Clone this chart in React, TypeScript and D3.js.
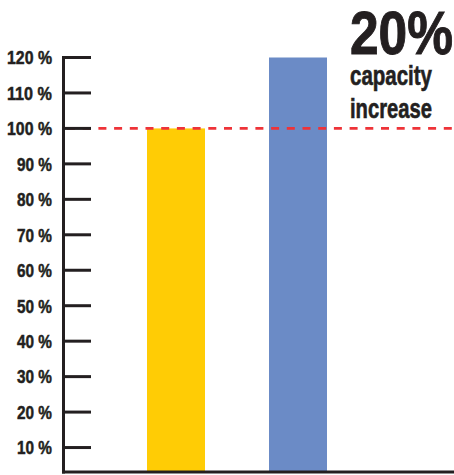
import React from "react";
import * as d3 from "d3";

const categories = ["Before", "After"];
const values = [100, 120];
const barColors = ["#FFCC05", "#6B8BC6"];
const tickValues = [10, 20, 30, 40, 50, 60, 70, 80, 90, 100, 110, 120];
const referenceValue = 100;
const headline = "20%";
const subtitleLines = ["capacity", "increase"];

const W = 454;
const H = 475;
const FONT = "'Liberation Sans', Arial, sans-serif";
const INK = "#231F20";

export default function App() {
  const axisX = 63.5;
  const baseY = 472;
  const y = d3.scaleLinear().domain([0, 120]).range([483, 57.5]);
  const x = d3.scaleBand().domain(categories).range([147, 327]).paddingInner(64 / 122).paddingOuter(0);

  return (
    <div style={{ position: "absolute", left: 0, top: 0 }}>
      <svg width={W} height={H} style={{ display: "block" }}>
        <rect x={0} y={0} width={W} height={H} fill="#fff" />
        {categories.map((c, i) => (
          <rect
            key={c}
            x={x(c)}
            width={x.bandwidth()}
            y={y(values[i])}
            height={baseY - y(values[i])}
            fill={barColors[i]}
          />
        ))}
        <line
          x1={67}
          x2={W}
          y1={y(referenceValue)}
          y2={y(referenceValue)}
          stroke="#EE3338"
          strokeWidth={2.6}
          strokeDasharray="8 7.7"
        />
        {tickValues.map((t) => (
          <g key={t}>
            <line x1={axisX} x2={91} y1={y(t)} y2={y(t)} stroke={INK} strokeWidth={3} />
            <text
              x={52}
              y={y(t)}
              dy="0.36em"
              textAnchor="end"
              fontFamily={FONT}
              fontWeight="bold"
              fontSize={19}
              fill={INK}
              stroke={INK}
              strokeWidth={0.5}
              textLength={String(t).length === 3 ? 45 : 35}
              lengthAdjust="spacingAndGlyphs"
            >
              {t} %
            </text>
          </g>
        ))}
        <line x1={axisX} x2={axisX} y1={y(120) - 1.5} y2={baseY + 1.5} stroke={INK} strokeWidth={3} />
        <line x1={axisX - 1.5} x2={W} y1={baseY} y2={baseY} stroke={INK} strokeWidth={3} />
        <text
          x={350}
          y={54}
          fontFamily={FONT}
          fontWeight="bold"
          fontSize={61}
          fill={INK}
          stroke={INK}
          strokeWidth={1}
          textLength={103}
          lengthAdjust="spacingAndGlyphs"
        >
          {headline}
        </text>
        {subtitleLines.map((s, i) => (
          <text
            key={s}
            x={350}
            y={85 + i * 33.3}
            fontFamily={FONT}
            fontWeight="bold"
            fontSize={27}
            fill={INK}
            stroke={INK}
            strokeWidth={0.6}
            textLength={82}
            lengthAdjust="spacingAndGlyphs"
          >
            {s}
          </text>
        ))}
      </svg>
    </div>
  );
}
